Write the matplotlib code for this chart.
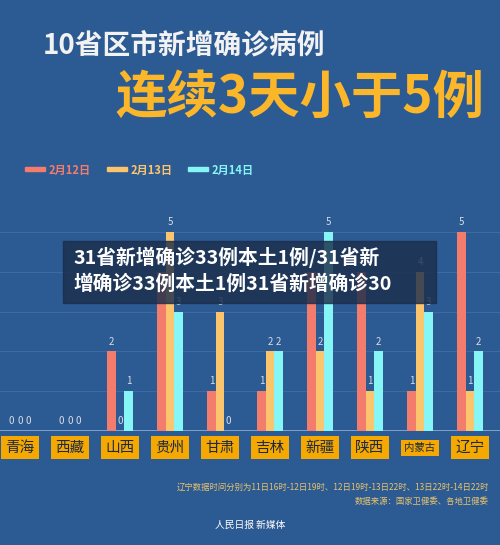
import matplotlib
matplotlib.use("Agg")
import matplotlib.pyplot as plt
import numpy as np
from matplotlib.patches import Rectangle

plt.rcParams['font.family'] = ['Noto Sans CJK SC', 'DejaVu Sans']

provinces = ["青海", "西藏", "山西", "贵州", "甘肃", "吉林", "新疆", "陕西", "内蒙古", "辽宁"]
feb12 = [0, 0, 2, 4, 1, 1, 4, 4, 1, 5]
feb13 = [0, 0, 0, 5, 3, 2, 2, 1, 4, 1]
feb14 = [0, 0, 1, 3, 0, 2, 5, 2, 3, 2]
series_names = ["2月12日", "2月13日", "2月14日"]
colors = ["#f47c6c", "#fbc56e", "#86f5f5"]

W, H = 500, 545
fig = plt.figure(figsize=(W/100, H/100), dpi=100)
bg = "#2c5a92"
fig.patch.set_facecolor(bg)

ax = fig.add_axes([0, 114/H, 1, (431-232)/H])
ax.set_facecolor(bg)
ax.set_xlim(-0.4, 9.6)
ax.set_ylim(0, 5)
for s in ax.spines.values():
    s.set_visible(False)
ax.set_xticks([]); ax.set_yticks([])
ax.axhline(0, color="#8fb0d8", lw=1.2)
for y in [1, 2, 3, 4, 5]:
    ax.axhline(y, color="#3d6aa2", lw=0.8, zorder=0)

x = np.arange(len(provinces))
bw = 0.17
for i, (vals, c) in enumerate(zip([feb12, feb13, feb14], colors)):
    xs = x + (i-1)*bw
    ax.bar(xs, vals, width=bw*0.95, color=c, zorder=2)
    for xi, v in zip(xs, vals):
        ax.text(xi, v + 0.12, str(v), ha="center", va="bottom", color="#d8dde6", fontsize=7, zorder=3)

for xi, p in zip(x, provinces):
    ax.text(xi, -0.42, p, ha="center", va="center", fontsize=10.5 if len(p) < 3 else 7.5,
            color="#1d2a44", zorder=3,
            bbox=dict(boxstyle="square,pad=0.3", fc="#f5a800", ec="none"))

fig.text(43/W, 1-45/H, "10省区市新增确诊病例", fontsize=20, fontweight="bold", color="#f2f2f2", va="center")
fig.text(115/W, 1-97/H, "连续3天小于5例", fontsize=37, fontweight="bold", color="#fbb62a", va="center")

lx = [25, 107, 188]
for l, n, c in zip(lx, series_names, colors):
    fig.patches.append(Rectangle((l/W, 1-171/H), 20/W, 4/H, transform=fig.transFigure, color=c))
    fig.text((l+24)/W, 1-170/H, n, fontsize=8, fontweight="bold", color=c, va="center")

fig.patches.append(Rectangle((63/W, 1-303/H), (436-63)/W, 62/H, transform=fig.transFigure,
                             color="#1c2e4c", alpha=0.82, zorder=5))
fig.text(73/W, 1-257/H, "31省新增确诊33例本土1例/31省新", fontsize=14.2, fontweight="bold", color="white", va="center", zorder=6)
fig.text(73/W, 1-284/H, "增确诊33例本土1例31省新增确诊30", fontsize=14.2, fontweight="bold", color="white", va="center", zorder=6)

fig.text(489/W, 1-487/H, "辽宁数据时间分别为11日16时-12日19时、12日19时-13日22时、13日22时-14日22时",
         fontsize=6, color="#e8c36c", ha="right", va="center")
fig.text(489/W, 1-501/H, "数据来源：国家卫健委、各地卫健委", fontsize=6, color="#e8c36c", ha="right", va="center")
fig.text(250/W, 1-525/H, "人民日报 新媒体", fontsize=7, color="white", ha="center", va="center")

fig.savefig("out.png", dpi=100, facecolor=bg)
